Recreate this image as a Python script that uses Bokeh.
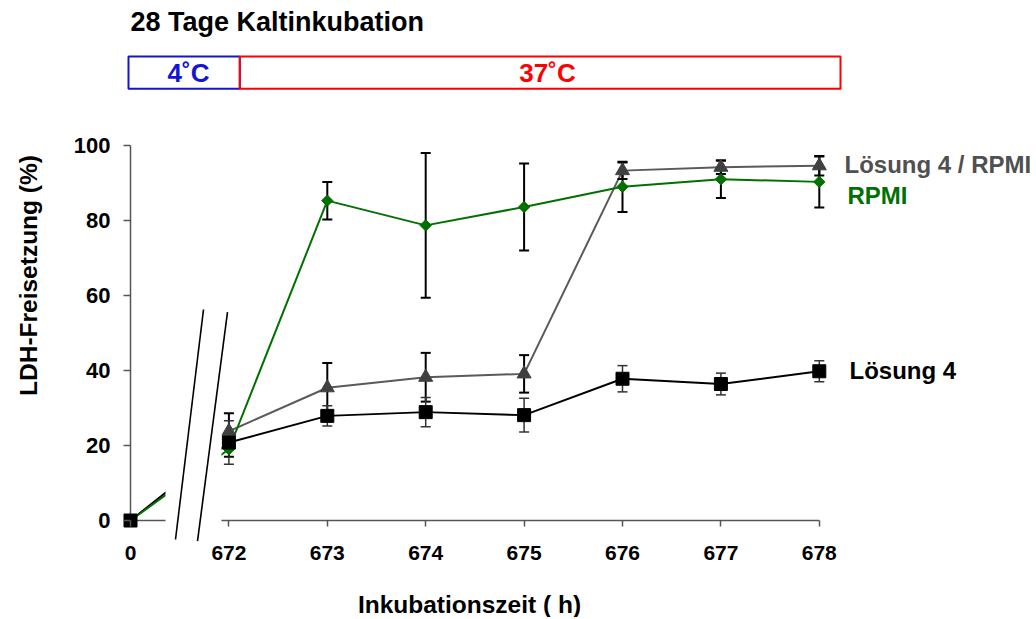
import math
from bokeh.plotting import figure
from bokeh.models import FixedTicker, Range1d
from bokeh.core.properties import value
from bokeh.embed import file_html
from bokeh.resources import INLINE

# ---------------- data ----------------
x_labels = ["0", "672", "673", "674", "675", "676", "677", "678"]
x_pos = [0, 1, 2, 3, 4, 5, 6, 7]

loesung4 = [0, 20.8, 27.9, 28.9, 28.1, 37.8, 36.4, 39.8]
loesung4_err = [0, 5.8, 2.7, 3.9, 4.5, 3.5, 2.9, 2.8]

loesung4_rpmi = [float("nan"), 23.8, 35.4, 38.2, 39.1, 93.3, 94.2, 94.6]
loesung4_rpmi_err = [0, 4.8, 6.6, 6.5, 5.0, 2.2, 1.8, 2.6]

rpmi = [0, 19.0, 85.3, 78.7, 83.6, 89.0, 91.0, 90.3]
rpmi_err = [0, 2.0, 5.0, 19.3, 11.6, 6.7, 5.0, 6.8]

y_ticks = [0, 20, 40, 60, 80, 100]

series_names = ["Lösung 4 / RPMI", "RPMI", "Lösung 4"]
phase_labels = ["4˚C", "37˚C"]
chart_title = "28 Tage Kaltinkubation"
x_title = "Inkubationszeit ( h)"
y_title = "LDH-Freisetzung (%)"

# ---------------- layout constants ----------------
W, H = 1030, 617
OX, OY = 130, 520          # screen position of data origin
PX_X = 98.4                # px per x unit
PX_Y = 3.75                # px per y unit
FONT = value("Liberation Sans")


def dx(px):  # horizontal pixel offset from origin -> data
    return px / PX_X


def dy(px):  # vertical pixel offset (upwards) from origin -> data
    return px / PX_Y


GREEN = "#007000"
GRAY_LINE = "#5a5a5a"
GRAY_MARK = "#404040"
AX_COL = "#555555"

p = figure(width=W, height=H, output_backend="svg", toolbar_location=None,
           x_range=Range1d(dx(-OX), dx(W - OX)),
           y_range=Range1d(dy(OY - H), dy(OY)),
           min_border_left=0, min_border_right=0, min_border_top=0,
           min_border_bottom=0)
p.outline_line_color = None
p.grid.visible = False
p.background_fill_color = "white"
p.border_fill_color = "white"

# axes drawn at the data origin
p.xaxis.fixed_location = 0
p.yaxis.fixed_location = 0
p.xaxis.ticker = FixedTicker(ticks=x_pos)
p.xaxis.major_label_overrides = {i: s for i, s in zip(x_pos, x_labels)}
p.yaxis.ticker = FixedTicker(ticks=y_ticks)
for ax in (p.xaxis, p.yaxis):
    ax.axis_line_color = None
    ax.major_tick_line_color = AX_COL
    ax.major_tick_line_width = 1.5
    ax.minor_tick_line_color = None
    ax.major_tick_in = 0
    ax.major_label_text_font = "Liberation Sans"
    ax.major_label_text_font_style = "bold"
    ax.major_label_text_color = "black"
p.xaxis.major_tick_out = 6
p.yaxis.major_tick_out = 7
p.xaxis.major_label_text_font_size = "21px"
p.yaxis.major_label_text_font_size = "22px"
p.xaxis.major_label_standoff = 19
p.yaxis.major_label_standoff = 13

# ---------------- data lines ----------------
p.line(x_pos, loesung4, line_color="black", line_width=2)
p.line(x_pos, loesung4_rpmi, line_color=GRAY_LINE, line_width=2)
p.line(x_pos, rpmi, line_color=GREEN, line_width=2)

# axis break: white mask and two slanted lines
brk_l, brk_r = dx(35), dx(91)
p.quad(left=[brk_l], right=[brk_r], bottom=[dy(-5)], top=[dy(150)],
       fill_color="white", line_color=None)
p.segment(x0=[dx(45), dx(67)], y0=[dy(-19), dy(-20.7)],
          x1=[dx(73), dx(97)], y1=[dy(211), dy(208.3)],
          line_color="black", line_width=1.6)

# axis lines (x axis broken)
p.segment(x0=[0, brk_r, 0], y0=[0, 0, 0], x1=[brk_l, x_pos[-1], 0], y1=[0, 0, y_ticks[-1]],
          line_color=AX_COL, line_width=1.5)

# ---------------- error bars ----------------
def errbars(vals, errs, color, width):
    xs = [x for x, e in zip(x_pos, errs) if e > 0]
    lo = [v - e for v, e in zip(vals, errs) if e > 0]
    hi = [v + e for v, e in zip(vals, errs) if e > 0]
    p.segment(x0=xs, y0=lo, x1=xs, y1=hi, line_color=color, line_width=width)
    p.scatter(xs + xs, lo + hi, marker="dash", size=10, line_color=color, line_width=width)

errbars(rpmi, rpmi_err, "black", 2)
errbars(loesung4_rpmi, loesung4_rpmi_err, "black", 2)
errbars(loesung4, loesung4_err, "#333333", 1.5)

# ---------------- markers ----------------
p.scatter(x_pos, rpmi, marker="square", angle=math.pi / 4, size=8,
          fill_color=GREEN, line_color=GREEN)
p.scatter(x_pos, loesung4_rpmi, marker="triangle", size=14,
          fill_color=GRAY_MARK, line_color=GRAY_MARK)
p.scatter(x_pos, loesung4, marker="square", size=13,
          fill_color="black", line_color="black")

# ---------------- axis titles ----------------
p.text(x=[dx(28 - OX)], y=[dy(OY - 275)], text=[y_title], angle=math.pi / 2,
       text_font=FONT, text_font_size="24.5px", text_font_style="bold",
       text_color="black", text_align="center", text_baseline="middle")
p.text(x=[dx(469 - OX)], y=[dy(OY - 604)], text=[x_title],
       text_font=FONT, text_font_size="24.5px", text_font_style="bold",
       text_color="black", text_align="center", text_baseline="middle")

# ---------------- header: title and temperature phases ----------------
p.text(x=[0], y=[dy(OY - 21)], text=[chart_title], text_font=FONT,
       text_font_size="27px", text_font_style="bold", text_color="black",
       text_baseline="alphabetic", text_align="left")
p.quad(left=[dx(-2)], right=[dx(109.3)], bottom=[dy(OY - 88.3)], top=[dy(OY - 56)],
       fill_color=None, line_color="#1414d2", line_width=2)
p.quad(left=[dx(109.3)], right=[dx(710)], bottom=[dy(OY - 88.3)], top=[dy(OY - 56)],
       fill_color=None, line_color="#ff0000", line_width=2)
p.text(x=[dx(58), dx(417)], y=[dy(OY - 72.9), dy(OY - 72.9)], text=phase_labels,
       text_font=FONT, text_font_size="26px", text_font_style="bold",
       text_color=["#1414d2", "#ff0000"],
       text_baseline="alphabetic", text_align="center")

# ---------------- series labels ----------------
p.text(x=[dx(714), dx(717), dx(719)],
       y=[dy(OY - 163.5), dy(OY - 194.5), dy(OY - 369.5)],
       text=series_names, text_font=FONT, text_font_size="24px",
       text_font_style="bold", text_color=["#505050", GREEN, "black"],
       text_baseline="alphabetic", text_align="left")

open("out.html", "w").write(file_html(p, INLINE))
